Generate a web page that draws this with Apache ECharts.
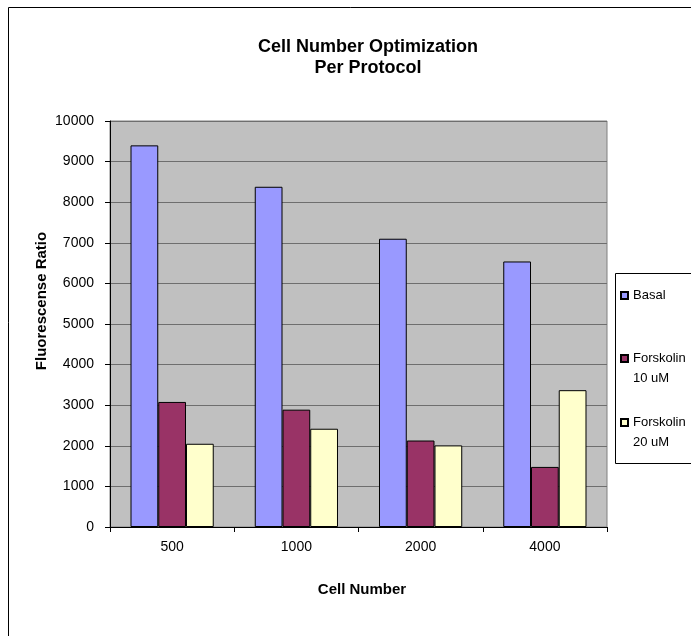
<!DOCTYPE html>
<html>
<head>
<meta charset="utf-8">
<title>Cell Number Optimization Per Protocol</title>
<script src="https://cdn.jsdelivr.net/npm/echarts@6/dist/echarts.min.js"></script>
<style>
  html, body { margin: 0; padding: 0; background: #ffffff; }
  #chart { width: 691px; height: 636px; }
</style>
</head>
<body>
<div id="chart"></div>
<script>
// Cell counts per well (x-axis categories)
const cellNumbers = ['500', '1000', '2000', '4000'];

// Fluorescence ratio readings for each protocol
const basal = [9400, 8380, 7100, 6540];
const forskolin10 = [3080, 2890, 2130, 1480];
const forskolin20 = [2050, 2420, 2010, 3370];

const seriesNames = ['Basal', 'Forskolin 10 uM', 'Forskolin 20 uM'];
const seriesColors = ['#9999ff', '#993366', '#ffffcc'];

// Y-axis scale
const yMin = 0;
const yMax = 10000;
const yStep = 1000;

const FONT = '"Liberation Sans", Arial, sans-serif';

const chart = echarts.init(document.getElementById('chart'), null, { renderer: 'canvas' });

const barSeries = [basal, forskolin10, forskolin20].map((values, i) => ({
  name: seriesNames[i],
  type: 'bar',
  data: values,
  barGap: '0%',
  barCategoryGap: '33%',
  itemStyle: { color: seriesColors[i], borderColor: '#000000', borderWidth: 1 },
  emphasis: { disabled: true },
  animation: false
}));

// One legend block per series so each swatch sits beside the first line of its label
const legendTops = [289, 352, 416];
const legends = seriesNames.map((name, i) => ({
  data: [name],
  orient: 'vertical',
  left: 620,
  top: legendTops[i],
  padding: 0,
  itemWidth: 7,
  itemHeight: 7,
  itemGap: 5,
  icon: 'rect',
  selectedMode: false,
  z: 5,
  formatter: (n) => n.replace(/ \d+ uM$/, ''),
  textStyle: { fontFamily: FONT, fontSize: 13, color: '#000000' }
}));

chart.setOption({
  backgroundColor: '#ffffff',
  animation: false,
  title: {
    text: 'Cell Number Optimization\nPer Protocol',
    left: 363,
    top: 32,
    textAlign: 'center',
    textStyle: { fontFamily: FONT, fontSize: 18, fontWeight: 'bold', color: '#000000', lineHeight: 21 }
  },
  legend: legends,
  grid: {
    left: 110,
    top: 121,
    width: 497,
    height: 406,
    show: true,
    backgroundColor: '#c0c0c0',
    borderColor: '#808080',
    borderWidth: 1
  },
  xAxis: {
    type: 'category',
    data: cellNumbers,
    name: 'Cell Number',
    nameLocation: 'middle',
    nameGap: 55,
    nameTextStyle: { fontFamily: FONT, fontSize: 15, fontWeight: 'bold', color: '#000000', padding: [0, 0, 0, 7] },
    axisLine: { show: true, lineStyle: { color: '#000000', width: 1 } },
    axisTick: { show: true, alignWithLabel: false, length: 5, lineStyle: { color: '#000000' } },
    axisLabel: { fontFamily: FONT, fontSize: 14, color: '#000000', margin: 13 },
    splitLine: { show: false }
  },
  yAxis: {
    type: 'value',
    min: yMin,
    max: yMax,
    interval: yStep,
    axisLine: { show: true, lineStyle: { color: '#000000', width: 1 } },
    axisTick: { show: true, length: 5, lineStyle: { color: '#000000' } },
    axisLabel: { fontFamily: FONT, fontSize: 14, color: '#000000', margin: 16, formatter: (v) => String(v) },
    splitLine: { show: true, lineStyle: { color: '#6e6e6e', width: 1 } }
  },
  graphic: [
    // outer chart frame
    {
      type: 'rect',
      shape: { x: 8.5, y: 7.5, width: 800, height: 800 },
      style: { fill: 'none', stroke: '#000000', lineWidth: 1 },
      z: 0,
      silent: true
    },
    // legend box
    {
      type: 'rect',
      shape: { x: 615.5, y: 273.5, width: 120, height: 190 },
      style: { fill: '#ffffff', stroke: '#000000', lineWidth: 1 },
      z: 1,
      silent: true
    },
    // second lines of the Forskolin legend labels
    {
      type: 'text',
      x: 633,
      y: 378,
      z: 6,
      style: { text: '10 uM', font: '13px ' + FONT, fill: '#000000', verticalAlign: 'middle' },
      silent: true
    },
    {
      type: 'text',
      x: 633,
      y: 442,
      z: 6,
      style: { text: '20 uM', font: '13px ' + FONT, fill: '#000000', verticalAlign: 'middle' },
      silent: true
    },
    // y-axis title
    {
      type: 'text',
      x: 42,
      y: 301,
      rotation: Math.PI / 2,
      z: 6,
      style: {
        text: 'Fluorescense Ratio',
        font: 'bold 15px ' + FONT,
        fill: '#000000',
        align: 'center',
        verticalAlign: 'middle'
      },
      silent: true
    }
  ],
  series: barSeries
});
</script>
</body>
</html>
